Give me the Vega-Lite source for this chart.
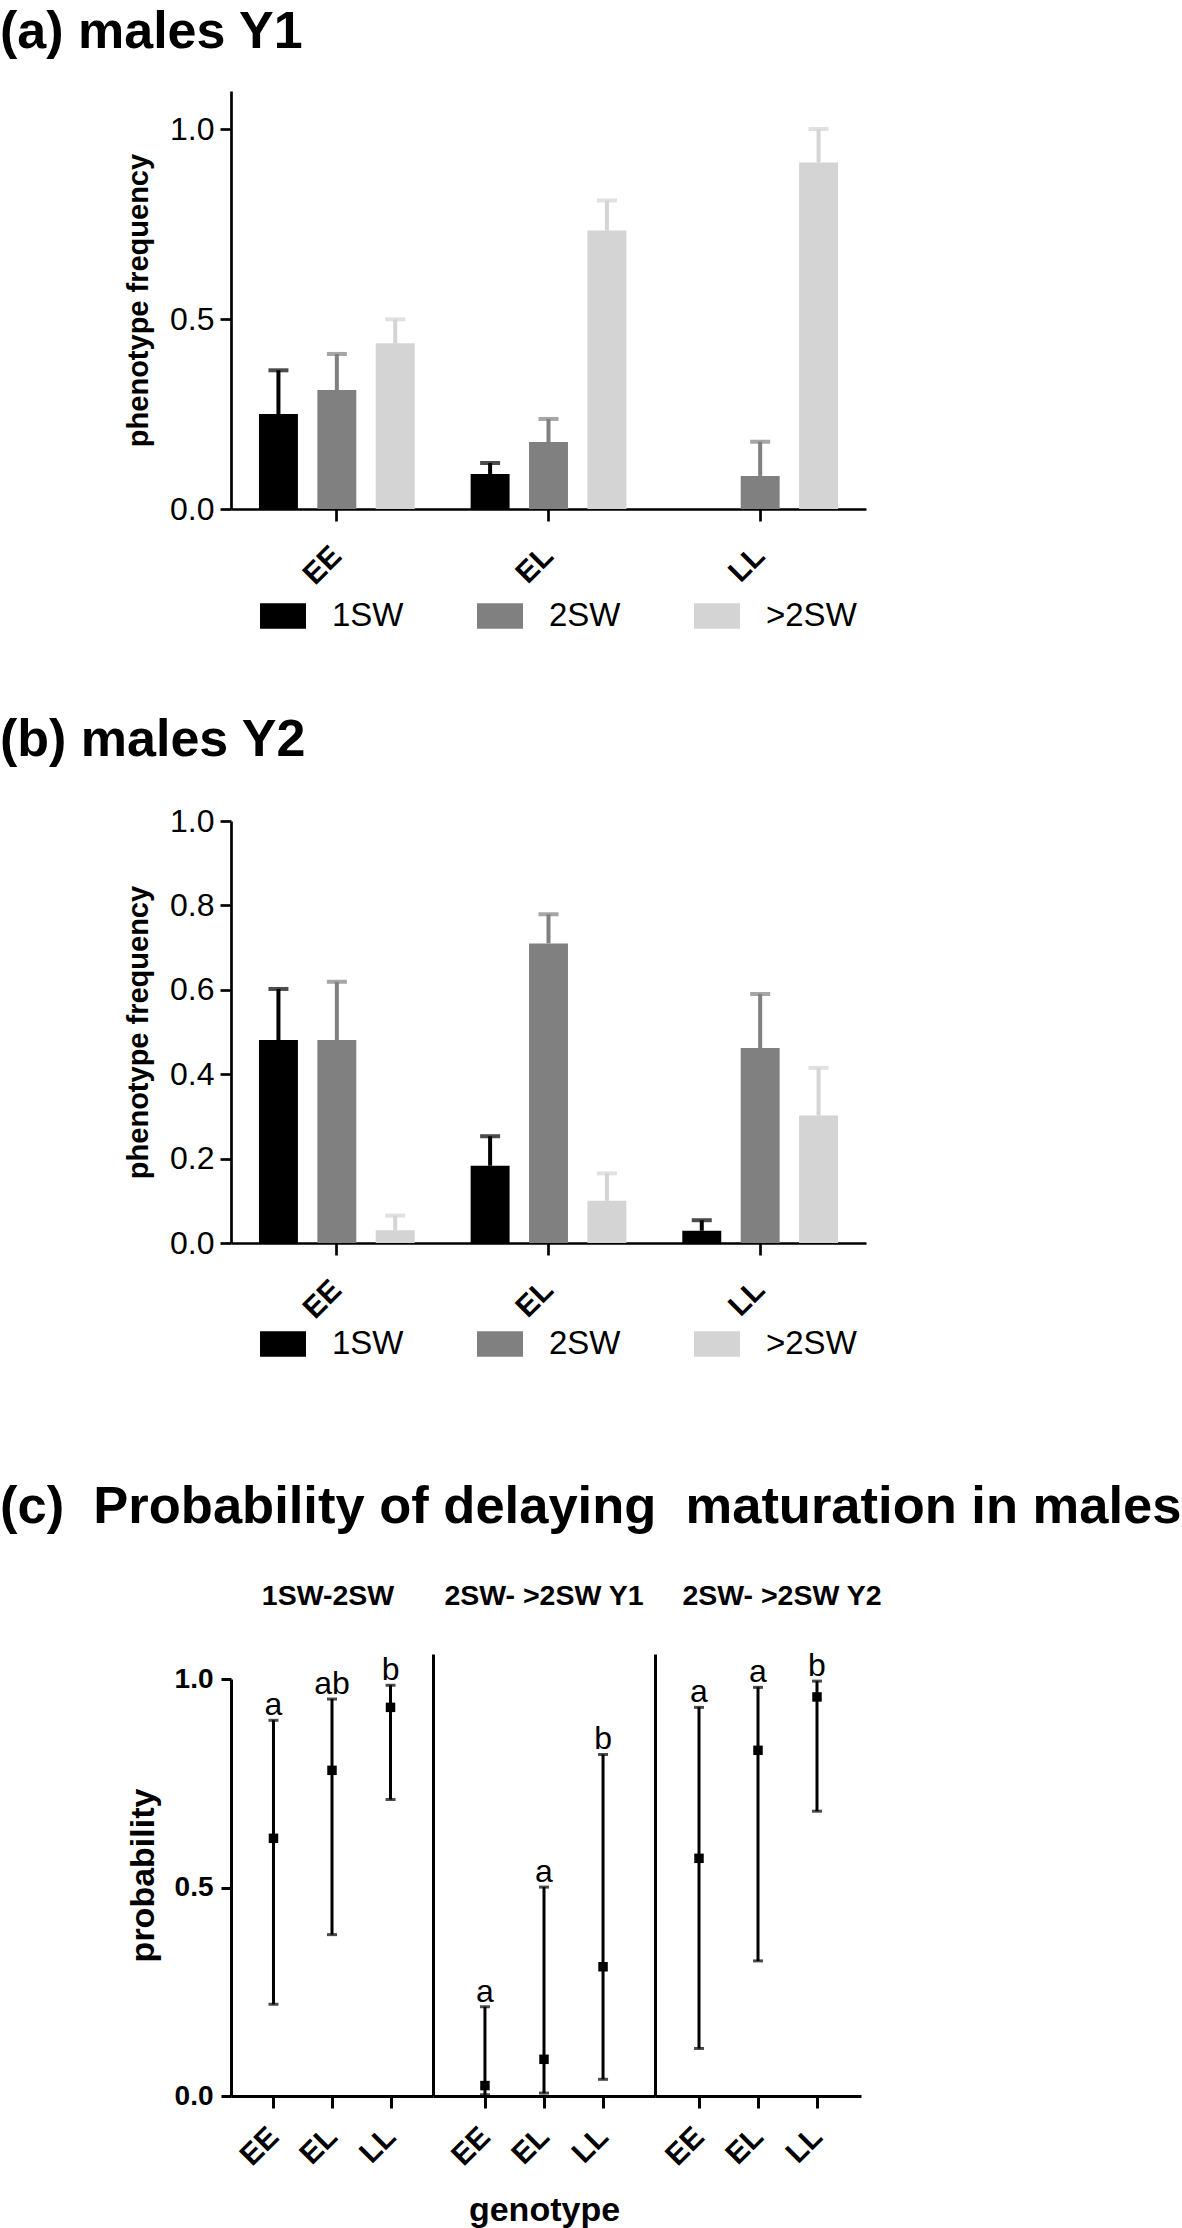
{
  "$schema": "https://vega.github.io/schema/vega-lite/v6.json",
  "padding": {"top": 6, "left": 0, "right": 0, "bottom": 0},
  "background": "white",
  "config": {
    "font": "Liberation Sans",
    "view": {"stroke": null},
    "axis": {"grid": false, "domainColor": "black", "tickColor": "black", "labelColor": "black", "titleColor": "black"},
    "title": {"color": "black"}
  },
  "datasets": {
    "males_y1": [
      {"genotype": "EE", "phenotype": "1SW", "freq": 0.25, "upper": 0.365},
      {"genotype": "EE", "phenotype": "2SW", "freq": 0.313, "upper": 0.408},
      {"genotype": "EE", "phenotype": ">2SW", "freq": 0.436, "upper": 0.499},
      {"genotype": "EL", "phenotype": "1SW", "freq": 0.092, "upper": 0.121},
      {"genotype": "EL", "phenotype": "2SW", "freq": 0.176, "upper": 0.237},
      {"genotype": "EL", "phenotype": ">2SW", "freq": 0.733, "upper": 0.812},
      {"genotype": "LL", "phenotype": "2SW", "freq": 0.087, "upper": 0.177},
      {"genotype": "LL", "phenotype": ">2SW", "freq": 0.912, "upper": 1.0}
    ],
    "males_y2": [
      {"genotype": "EE", "phenotype": "1SW", "freq": 0.481, "upper": 0.602},
      {"genotype": "EE", "phenotype": "2SW", "freq": 0.481, "upper": 0.619},
      {"genotype": "EE", "phenotype": ">2SW", "freq": 0.03, "upper": 0.065},
      {"genotype": "EL", "phenotype": "1SW", "freq": 0.183, "upper": 0.253},
      {"genotype": "EL", "phenotype": "2SW", "freq": 0.71, "upper": 0.779},
      {"genotype": "EL", "phenotype": ">2SW", "freq": 0.1, "upper": 0.165},
      {"genotype": "LL", "phenotype": "1SW", "freq": 0.029, "upper": 0.054},
      {"genotype": "LL", "phenotype": "2SW", "freq": 0.462, "upper": 0.59},
      {"genotype": "LL", "phenotype": ">2SW", "freq": 0.302, "upper": 0.415}
    ],
    "prob": [
      {"comparison": "1SW-2SW", "genotype": "EE", "prob": 0.618, "lower": 0.22, "upper": 0.901, "letter": "a"},
      {"comparison": "1SW-2SW", "genotype": "EL", "prob": 0.781, "lower": 0.387, "upper": 0.952, "letter": "ab"},
      {"comparison": "1SW-2SW", "genotype": "LL", "prob": 0.932, "lower": 0.711, "upper": 0.985, "letter": "b"},
      {"comparison": "2SW- >2SW Y1", "genotype": "EE", "prob": 0.025, "lower": 0.003, "upper": 0.214, "letter": "a"},
      {"comparison": "2SW- >2SW Y1", "genotype": "EL", "prob": 0.088, "lower": 0.007, "upper": 0.501, "letter": "a"},
      {"comparison": "2SW- >2SW Y1", "genotype": "LL", "prob": 0.31, "lower": 0.04, "upper": 0.819, "letter": "b"},
      {"comparison": "2SW- >2SW Y2", "genotype": "EE", "prob": 0.57, "lower": 0.114, "upper": 0.932, "letter": "a"},
      {"comparison": "2SW- >2SW Y2", "genotype": "EL", "prob": 0.829, "lower": 0.324, "upper": 0.98, "letter": "a"},
      {"comparison": "2SW- >2SW Y2", "genotype": "LL", "prob": 0.957, "lower": 0.683, "upper": 0.995, "letter": "b"}
    ]
  },
  "vconcat": [
    {
      "spacing": 81,
      "resolve": {"scale": {"color": "independent"}, "legend": {"color": "independent"}},
      "vconcat": [
        {
          "title": {"text": "(a) males Y1", "anchor": "start", "frame": "group", "dx": -231, "fontSize": 52, "fontWeight": "bold", "offset": 32},
          "width": 635,
          "height": 418,
          "data": {"name": "males_y1"},
          "encoding": {
            "x": {"field": "genotype", "type": "nominal", "sort": ["EE", "EL", "LL"],
              "scale": {"paddingInner": 0, "paddingOuter": -0.05},
              "axis": {"title": null, "labelAngle": -45, "labelAlign": "right", "labelBaseline": "middle", "labelFontSize": 30, "labelFontWeight": "bold", "labelPadding": 30, "tickSize": 12, "tickWidth": 2.7, "domainWidth": 2.7}},
            "xOffset": {"field": "phenotype", "type": "nominal", "scale": {"domain": ["1SW", "2SW", ">2SW"], "paddingInner": 0.333, "paddingOuter": 0.479}}
          },
          "layer": [
            {
              "mark": {"type": "bar"},
              "encoding": {
                "y": {"field": "freq", "type": "quantitative", "title": "phenotype frequency", "scale": {"domain": [0, 1.1], "nice": false},
                  "axis": {"values": [0, 0.5, 1], "format": ".1f", "labelFontSize": 32, "labelPadding": 6, "tickSize": 11, "tickWidth": 2.7, "domainWidth": 2.7, "titleFontSize": 29, "titleFontWeight": "bold", "titlePadding": 16}},
                "color": {"field": "phenotype", "type": "nominal", "scale": {"domain": ["1SW", "2SW", ">2SW"], "range": ["#000000", "#808080", "#d4d4d4"]},
                  "legend": {"title": null, "orient": "none", "legendX": 29, "legendY": 502, "direction": "horizontal", "symbolType": "M-1,-0.55H1V0.55H-1Z", "symbolSize": 2116, "symbolStrokeWidth": 0, "labelFontSize": 33, "labelOffset": 26, "columnPadding": 73, "padding": 0, "labelColor": "black"}}
              }
            },
            {
              "mark": {"type": "rule", "strokeWidth": 4},
              "encoding": {
                "y": {"field": "freq", "type": "quantitative", "title": "phenotype frequency"},
                "y2": {"field": "upper"},
                "color": {"field": "phenotype", "type": "nominal", "legend": null}
              }
            },
            {
              "mark": {"type": "tick", "thickness": 4, "size": 20},
              "encoding": {
                "y": {"field": "upper", "type": "quantitative", "title": "phenotype frequency"},
                "color": {"field": "phenotype", "type": "nominal", "legend": null}
              }
            }
          ]
        },
        {
          "title": {"text": "(b) males Y2", "anchor": "start", "frame": "group", "dx": -231, "fontSize": 52, "fontWeight": "bold", "offset": 38},
          "width": 635,
          "height": 422,
          "data": {"name": "males_y2"},
          "encoding": {
            "x": {"field": "genotype", "type": "nominal", "sort": ["EE", "EL", "LL"],
              "scale": {"paddingInner": 0, "paddingOuter": -0.05},
              "axis": {"title": null, "labelAngle": -45, "labelAlign": "right", "labelBaseline": "middle", "labelFontSize": 30, "labelFontWeight": "bold", "labelPadding": 30, "tickSize": 12, "tickWidth": 2.7, "domainWidth": 2.7}},
            "xOffset": {"field": "phenotype", "type": "nominal", "scale": {"domain": ["1SW", "2SW", ">2SW"], "paddingInner": 0.333, "paddingOuter": 0.479}}
          },
          "layer": [
            {
              "mark": {"type": "bar"},
              "encoding": {
                "y": {"field": "freq", "type": "quantitative", "title": "phenotype frequency", "scale": {"domain": [0, 1], "nice": false},
                  "axis": {"values": [0, 0.2, 0.4, 0.6, 0.8, 1], "format": ".1f", "labelFontSize": 32, "labelPadding": 6, "tickSize": 11, "tickWidth": 2.7, "domainWidth": 2.7, "titleFontSize": 29, "titleFontWeight": "bold", "titlePadding": 16}},
                "color": {"field": "phenotype", "type": "nominal", "scale": {"domain": ["1SW", "2SW", ">2SW"], "range": ["#000000", "#808080", "#d4d4d4"]},
                  "legend": {"title": null, "orient": "none", "legendX": 29, "legendY": 500, "direction": "horizontal", "symbolType": "M-1,-0.55H1V0.55H-1Z", "symbolSize": 2116, "symbolStrokeWidth": 0, "labelFontSize": 33, "labelOffset": 26, "columnPadding": 73, "padding": 0, "labelColor": "black"}}
              }
            },
            {
              "mark": {"type": "rule", "strokeWidth": 4},
              "encoding": {
                "y": {"field": "freq", "type": "quantitative", "title": "phenotype frequency"},
                "y2": {"field": "upper"},
                "color": {"field": "phenotype", "type": "nominal", "legend": null}
              }
            },
            {
              "mark": {"type": "tick", "thickness": 4, "size": 20},
              "encoding": {
                "y": {"field": "upper", "type": "quantitative", "title": "phenotype frequency"},
                "color": {"field": "phenotype", "type": "nominal", "legend": null}
              }
            }
          ]
        }
      ]
    },
    {
      "title": {"text": "(c)\u00a0 Probability of delaying\u00a0 maturation in males", "anchor": "start", "frame": "group", "dx": -231, "fontSize": 52.5, "fontWeight": "bold", "offset": 47},
      "spacing": 0,
      "bounds": "flush",
      "hconcat": [
        {
          "title": {"text": "1SW-2SW", "anchor": "middle", "frame": "group", "fontSize": 28.5, "fontWeight": "bold", "offset": 44, "dx": -4},
          "width": 202,
          "height": 442,
          "data": {"name": "prob"},
          "transform": [{"filter": "datum.comparison === '1SW-2SW'"}],
          "encoding": {
            "x": {"field": "genotype", "type": "nominal", "sort": ["EE", "EL", "LL"], "scale": {"type": "point", "padding": 0.726},
              "axis": {"title": null, "labelAngle": -45, "labelAlign": "right", "labelBaseline": "middle", "labelFontSize": 30, "labelFontWeight": "bold", "labelPadding": 24, "tickSize": 12, "tickWidth": 3, "domainWidth": 3}}
          },
          "layer": [
            {"mark": {"type": "rule", "strokeWidth": 3, "color": "black"},
              "encoding": {
                "y": {"field": "lower", "type": "quantitative", "title": "probability", "scale": {"domain": [0, 1.06], "nice": false},
                  "axis": {"values": [0, 0.5, 1], "format": ".1f", "labelFontSize": 28, "labelFontWeight": "bold", "labelPadding": 8, "tickSize": 10, "tickWidth": 3, "domainWidth": 3, "domainDash": [417, 40], "titleFontSize": 34, "titleFontWeight": "bold", "titlePadding": 14}},
                "y2": {"field": "upper"}}},
            {"mark": {"type": "tick", "thickness": 3, "size": 10, "color": "black"},
              "encoding": {"y": {"field": "upper", "type": "quantitative", "title": "probability"}}},
            {"mark": {"type": "tick", "thickness": 3, "size": 10, "color": "black"},
              "encoding": {"y": {"field": "lower", "type": "quantitative", "title": "probability"}}},
            {"mark": {"type": "point", "shape": "square", "filled": true, "size": 90, "color": "black", "opacity": 1},
              "encoding": {"y": {"field": "prob", "type": "quantitative", "title": "probability"}}},
            {"mark": {"type": "text", "baseline": "alphabetic", "dy": -5, "fontSize": 32, "color": "black"},
              "encoding": {"y": {"field": "upper", "type": "quantitative", "title": "probability"}, "text": {"field": "letter"}}}
          ]
        },
        {
          "title": {"text": "2SW- >2SW Y1", "anchor": "middle", "frame": "group", "fontSize": 28.5, "fontWeight": "bold", "offset": 44},
          "width": 222,
          "height": 442,
          "data": {"name": "prob"},
          "transform": [{"filter": "datum.comparison === '2SW- >2SW Y1'"}],
          "encoding": {
            "x": {"field": "genotype", "type": "nominal", "sort": ["EE", "EL", "LL"], "scale": {"type": "point", "padding": 0.88},
              "axis": {"title": "genotype", "titleFontSize": 34, "titleFontWeight": "bold", "titlePadding": 23, "labelAngle": -45, "labelAlign": "right", "labelBaseline": "middle", "labelFontSize": 30, "labelFontWeight": "bold", "labelPadding": 24, "tickSize": 12, "tickWidth": 3, "domainWidth": 3}}
          },
          "layer": [
            {"mark": {"type": "rule", "strokeWidth": 3, "color": "black"},
              "encoding": {
                "y": {"field": "lower", "type": "quantitative", "title": null, "scale": {"domain": [0, 1.06], "nice": false},
                  "axis": {"ticks": false, "labels": false, "domain": true, "domainWidth": 3, "title": null}},
                "y2": {"field": "upper"}}},
            {"mark": {"type": "tick", "thickness": 3, "size": 10, "color": "black"},
              "encoding": {"y": {"field": "upper", "type": "quantitative", "title": null}}},
            {"mark": {"type": "tick", "thickness": 3, "size": 10, "color": "black"},
              "encoding": {"y": {"field": "lower", "type": "quantitative", "title": null}}},
            {"mark": {"type": "point", "shape": "square", "filled": true, "size": 90, "color": "black", "opacity": 1},
              "encoding": {"y": {"field": "prob", "type": "quantitative", "title": null}}},
            {"mark": {"type": "text", "baseline": "alphabetic", "dy": -5, "fontSize": 32, "color": "black"},
              "encoding": {"y": {"field": "upper", "type": "quantitative", "title": null}, "text": {"field": "letter"}}}
          ]
        },
        {
          "title": {"text": "2SW- >2SW Y2", "anchor": "middle", "frame": "group", "fontSize": 28.5, "fontWeight": "bold", "offset": 40, "dx": 24},
          "width": 206,
          "height": 442,
          "data": {"name": "prob"},
          "transform": [{"filter": "datum.comparison === '2SW- >2SW Y2'"}],
          "encoding": {
            "x": {"field": "genotype", "type": "nominal", "sort": ["EE", "EL", "LL"], "scale": {"type": "point", "padding": 0.746},
              "axis": {"title": null, "labelAngle": -45, "labelAlign": "right", "labelBaseline": "middle", "labelFontSize": 30, "labelFontWeight": "bold", "labelPadding": 24, "tickSize": 12, "tickWidth": 3, "domainWidth": 3}}
          },
          "layer": [
            {"mark": {"type": "rule", "strokeWidth": 3, "color": "black"},
              "encoding": {
                "y": {"field": "lower", "type": "quantitative", "title": null, "scale": {"domain": [0, 1.06], "nice": false},
                  "axis": {"ticks": false, "labels": false, "domain": true, "domainWidth": 3, "title": null}},
                "y2": {"field": "upper"}}},
            {"mark": {"type": "tick", "thickness": 3, "size": 10, "color": "black"},
              "encoding": {"y": {"field": "upper", "type": "quantitative", "title": null}}},
            {"mark": {"type": "tick", "thickness": 3, "size": 10, "color": "black"},
              "encoding": {"y": {"field": "lower", "type": "quantitative", "title": null}}},
            {"mark": {"type": "point", "shape": "square", "filled": true, "size": 90, "color": "black", "opacity": 1},
              "encoding": {"y": {"field": "prob", "type": "quantitative", "title": null}}},
            {"mark": {"type": "text", "baseline": "alphabetic", "dy": -5, "fontSize": 32, "color": "black"},
              "encoding": {"y": {"field": "upper", "type": "quantitative", "title": null}, "text": {"field": "letter"}}}
          ]
        }
      ]
    }
  ],
  "spacing": 120
}
